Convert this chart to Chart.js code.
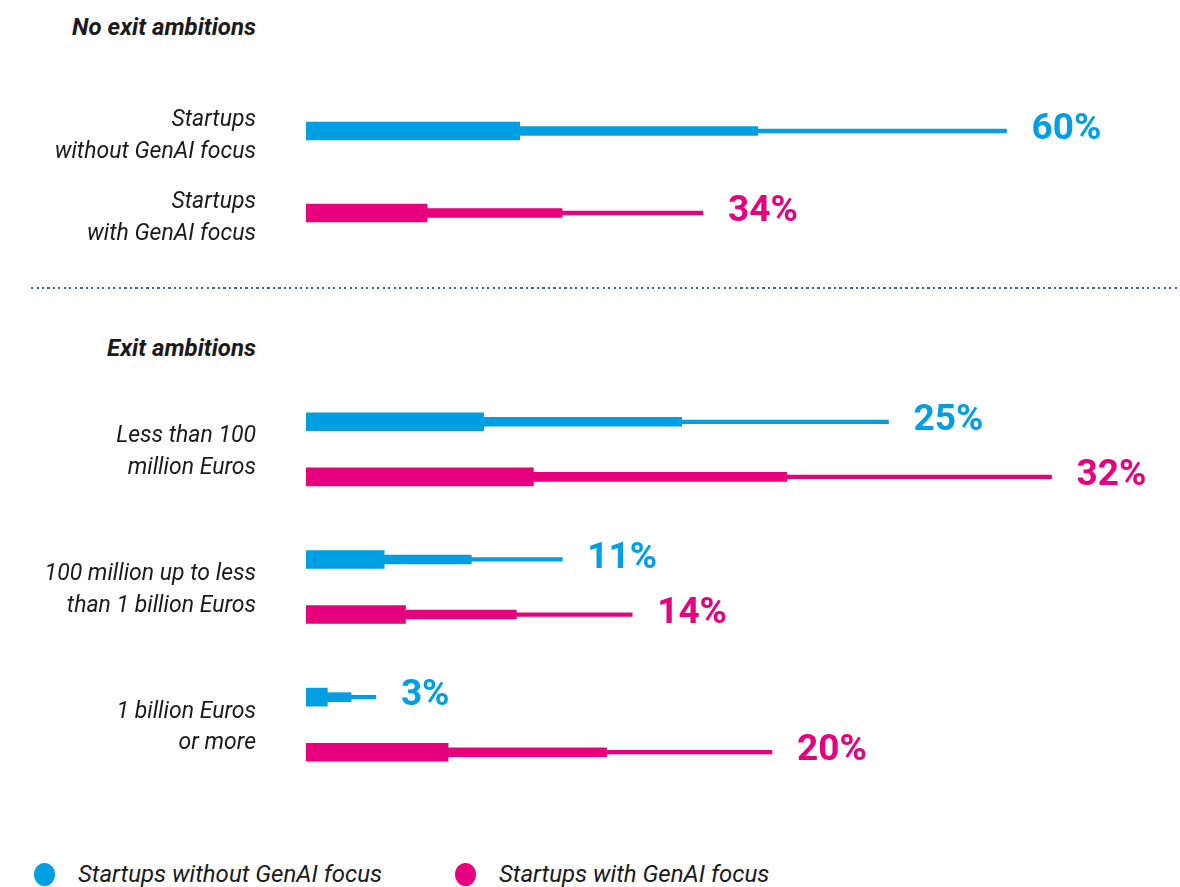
<!DOCTYPE html>
<html>
<head>
<meta charset="utf-8">
<script src="https://cdn.jsdelivr.net/npm/chart.js@4.4.1/dist/chart.umd.min.js"></script>
<style>
  html, body { margin: 0; padding: 0; background: #ffffff; }
  body { width: 1180px; height: 887px; position: relative; overflow: hidden; font-family: Roboto, "Open Sans", sans-serif; }
  .hdr { position: absolute; right: calc(1180px - 256px); font-size: 24px; font-weight: 700; font-style: italic; color: #1a1a1a; line-height: 1; transform: translateY(-50%); white-space: nowrap; }
  #divider { position: absolute; left: 31px; top: 287px; width: 1147px; height: 2px;
    background: repeating-linear-gradient(to right, #3d63a6 0 2px, transparent 2px 5.5px); }
  canvas { position: absolute; left: 0; }
  .leg { position: absolute; top: 874px; transform: translateY(-50%); display: flex; align-items: center; font-size: 24px; font-style: italic; color: #1a1a1a; white-space: nowrap; }
  .dot { width: 21px; height: 23px; border-radius: 50%; margin-right: 23px; }
</style>
</head>
<body>
<div class="hdr" style="top:27px">No exit ambitions</div>
<div id="divider"></div>
<div class="hdr" style="top:348px">Exit ambitions</div>
<canvas id="chartA" width="1180" height="164" style="top:90px"></canvas>
<canvas id="chartB" width="1180" height="386" style="top:380px"></canvas>
<div class="leg" style="left:34px"><div class="dot" style="background:#009FE3"></div>Startups without GenAI focus</div>
<div class="leg" style="left:455px"><div class="dot" style="background:#E6007E"></div>Startups with GenAI focus</div>
<script>
// ---- Data ----
const seriesNames = ['Startups without GenAI focus', 'Startups with GenAI focus'];
const noExitLabels = [['Startups', 'without GenAI focus'], ['Startups', 'with GenAI focus']];
const noExitValues = [60, 34]; // without, with
const exitLabels = [['Less than 100', 'million Euros'], ['100 million up to less', 'than 1 billion Euros'], ['1 billion Euros', 'or more']];
const exitWithout = [25, 11, 3];
const exitWith = [32, 14, 20];

// ---- Style ----
const BLUE = '#009FE3';
const PINK = '#E6007E';
const seriesColors = [BLUE, PINK];
const SEG1 = 0.305, SEG2 = 0.645;      // taper break points (fraction of bar length)
const thickness = [18, 9, 3.6];         // thick, medium, thin
const PLOT_LEFT = 306;

function segmentDatasets(values, colors) {
  const segs = [[0, SEG1], [SEG1, SEG2], [SEG2, 1]];
  return segs.map((s, k) => ({
    data: values.map(v => (v === null ? null : [v * s[0], v * s[1]])),
    backgroundColor: colors,
    barThickness: thickness[k],
    grouped: false,
    borderWidth: 0,
    borderSkipped: false
  }));
}

const valueLabelPlugin = {
  id: 'valueLabels',
  afterDatasetsDraw(chart, args, opts) {
    const ctx = chart.ctx;
    const meta = chart.getDatasetMeta(2); // thin segment: ends at the value
    ctx.save();
    ctx.font = '700 37px Roboto, sans-serif';
    ctx.textBaseline = 'middle';
    ctx.textAlign = 'left';
    meta.data.forEach((el, i) => {
      const v = opts.values[i];
      if (v === null || v === undefined) return;
      ctx.fillStyle = opts.colors[i];
      ctx.fillText(v + '%', el.x + 25, el.y - 1);
    });
    ctx.restore();
  }
};

function makeOptions(xMax, padTop, padRight, labelShift, values, colors) {
  return {
    indexAxis: 'y',
    responsive: false,
    animation: false,
    layout: { padding: { left: 0, right: padRight, top: padTop, bottom: 0 } },
    plugins: {
      legend: { display: false },
      tooltip: { enabled: false },
      valueLabels: { values, colors }
    },
    scales: {
      x: { min: 0, max: xMax, display: false },
      y: {
        offset: true,
        grid: { display: false, drawTicks: false },
        border: { display: false },
        ticks: {
          autoSkip: false,
          padding: 50,
          labelOffset: labelShift,
          color: '#1a1a1a',
          font: { family: 'Roboto', size: 23, style: 'italic', lineHeight: 1.38 }
        },
        afterFit(scale) {
          scale.width = PLOT_LEFT;
          scale.paddingTop = 0;
          scale.paddingBottom = 0;
        }
      }
    }
  };
}

// ---- Chart A: no exit ambitions ----
const aColors = seriesColors.slice();
new Chart(document.getElementById('chartA'), {
  type: 'bar',
  data: { labels: noExitLabels, datasets: segmentDatasets(noExitValues, aColors) },
  options: makeOptions(74, 0, 10, 5, noExitValues, aColors),
  plugins: [valueLabelPlugin]
});

// ---- Chart B: exit ambitions (rows with spacer categories) ----
const bLabels = [], bValues = [], bColors = [];
exitLabels.forEach((lab, g) => {
  bLabels.push('', lab, '');
  bValues.push(exitWithout[g], null, exitWith[g]);
  bColors.push(BLUE, BLUE, PINK);
  if (g < exitLabels.length - 1) {
    bLabels.push('', '');
    bValues.push(null, null);
    bColors.push(BLUE, BLUE);
  }
});
new Chart(document.getElementById('chartB'), {
  type: 'bar',
  data: { labels: bLabels, datasets: segmentDatasets(bValues, bColors) },
  options: makeOptions(37, 28, 12, 3, bValues, bColors),
  plugins: [valueLabelPlugin]
});
</script>
</body>
</html>
